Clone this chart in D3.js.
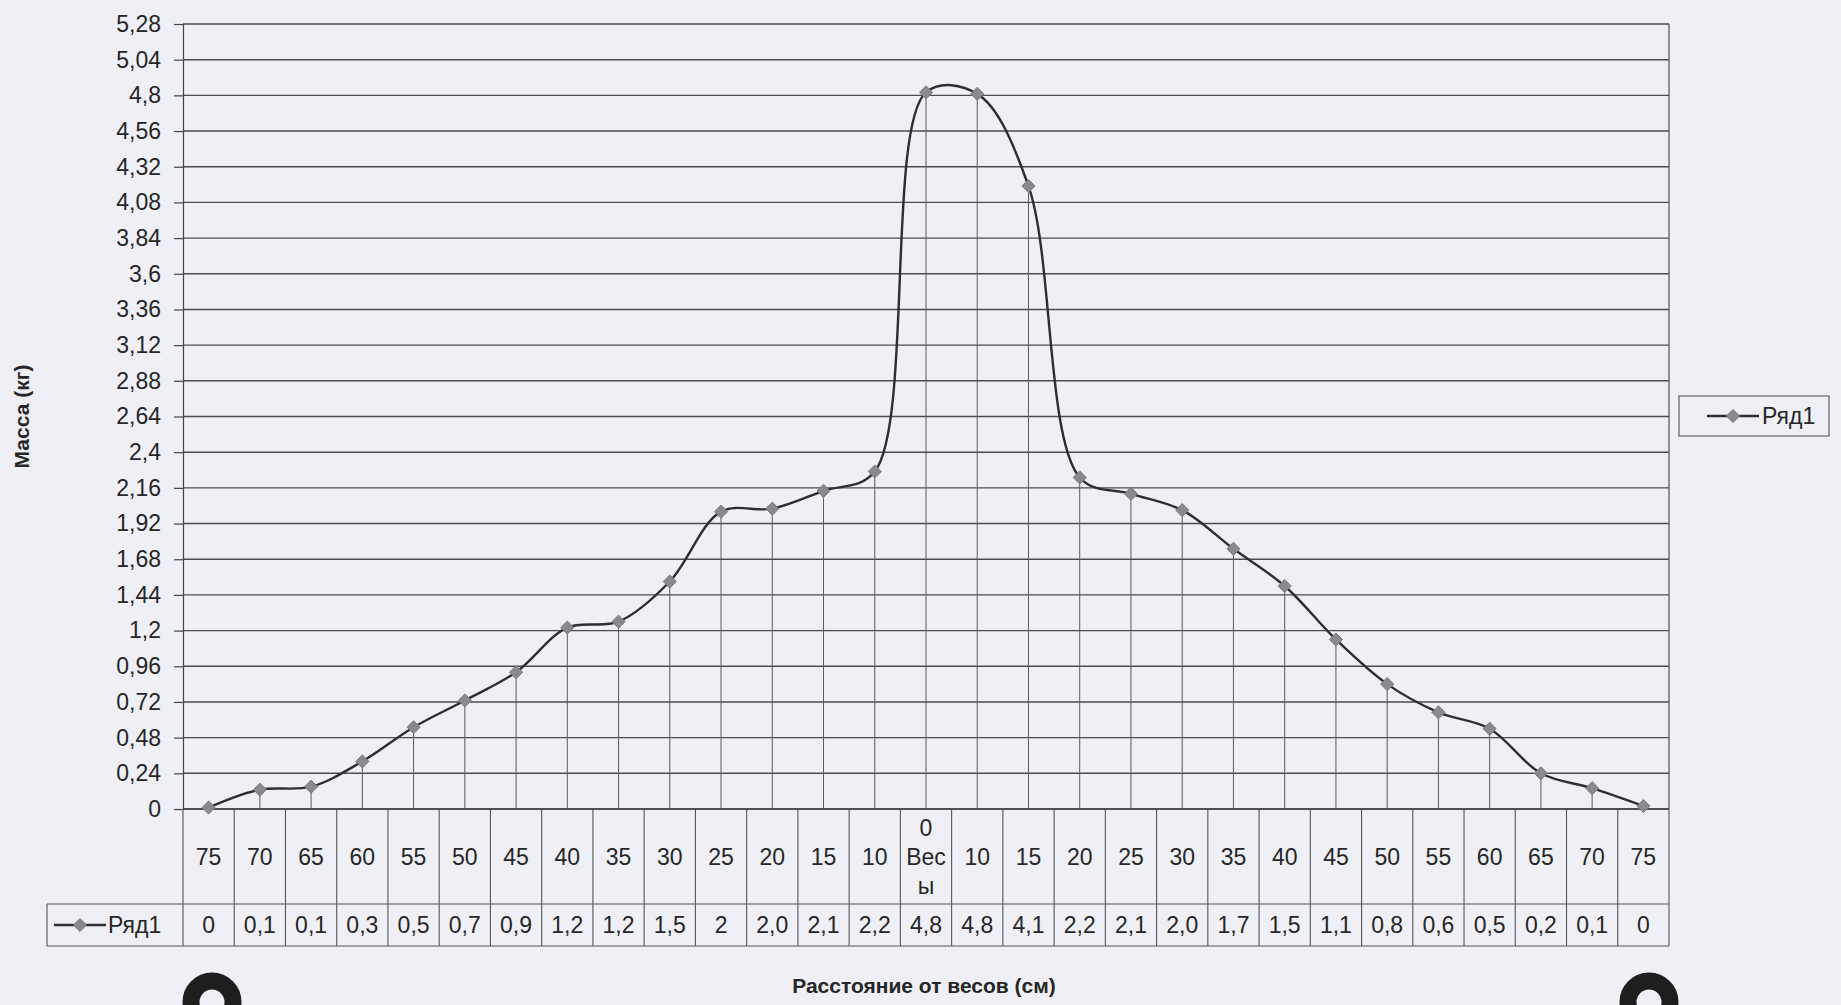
<!DOCTYPE html>
<html>
<head>
<meta charset="utf-8">
<script src="https://cdn.jsdelivr.net/npm/d3@7"></script>
<style>
  html, body { margin: 0; padding: 0; background: #eef0f4; }
  svg { display: block; font-family: "Liberation Sans", Arial, sans-serif; }
</style>
</head>
<body>
<div id="chart"></div>
<script>
// categories (distance from the scales, cm) - left side, scales, right side
var categories = ['75', '70', '65', '60', '55', '50', '45', '40', '35', '30', '25', '20', '15', '10',
    '0\nВес\nы',
    '10', '15', '20', '25', '30', '35', '40', '45', '50', '55', '60', '65', '70', '75'];

// series values (kg)
var values = [0.01, 0.13, 0.15, 0.32, 0.55, 0.73, 0.92, 1.22, 1.26, 1.53, 2.0, 2.02, 2.14, 2.27,
    4.82,
    4.81, 4.19, 2.23, 2.12, 2.01, 1.75, 1.5, 1.14, 0.84, 0.65, 0.54, 0.24, 0.14, 0.02];

// text shown in the data table row
var tableLabels = ['0', '0,1', '0,1', '0,3', '0,5', '0,7', '0,9', '1,2', '1,2', '1,5', '2', '2,0', '2,1', '2,2',
    '4,8',
    '4,8', '4,1', '2,2', '2,1', '2,0', '1,7', '1,5', '1,1', '0,8', '0,6', '0,5', '0,2', '0,1', '0'];

var yMax = 5.28, yStep = 0.24;
var seriesName = 'Ряд1';

var width = 1841, height = 1005;
var plot = { left: 183, right: 1669, top: 24, bottom: 809 };
var table = { keyLeft: 47, rowSplit: 904, bottom: 946 };

var svg = d3.select('#chart').append('svg')
    .attr('width', width)
    .attr('height', height);

svg.append('rect').attr('width', width).attr('height', height).attr('fill', '#eef0f5');

var x = d3.scaleBand()
    .domain(d3.range(categories.length))
    .range([plot.left, plot.right]);

var y = d3.scaleLinear()
    .domain([0, yMax])
    .range([plot.bottom, plot.top]);

var yTicks = d3.range(0, Math.round(yMax / yStep) + 1).map(function(i) { return +(i * yStep).toFixed(2); });
var fmt = function(v) { return String(+v.toFixed(2)).replace('.', ','); };

// horizontal gridlines
svg.append('g').selectAll('line').data(yTicks).join('line')
    .attr('x1', plot.left).attr('x2', plot.right)
    .attr('y1', function(d) { return y(d); }).attr('y2', function(d) { return y(d); })
    .attr('stroke', '#4c4c4c').attr('stroke-width', 1.4);

// y axis
var yAxis = svg.append('g')
    .attr('transform', 'translate(' + plot.left + ',0)')
    .call(d3.axisLeft(y).tickValues(yTicks).tickFormat(fmt).tickSize(9).tickPadding(13));
yAxis.select('.domain').attr('stroke', '#444').attr('stroke-width', 1.2);
yAxis.selectAll('.tick line').attr('stroke', '#444').attr('stroke-width', 1.2);
yAxis.selectAll('.tick text')
    .attr('fill', '#262626')
    .style('font-size', '23px')
    .style('font-family', '"Liberation Sans", Arial, sans-serif');

// right border of the plot
svg.append('line')
    .attr('x1', plot.right).attr('x2', plot.right)
    .attr('y1', plot.top).attr('y2', plot.bottom)
    .attr('stroke', '#505050').attr('stroke-width', 1.2);

// drop lines from every point
svg.append('g').selectAll('line').data(values).join('line')
    .attr('x1', function(d, i) { return x(i) + x.bandwidth() / 2; })
    .attr('x2', function(d, i) { return x(i) + x.bandwidth() / 2; })
    .attr('y1', function(d) { return y(d); })
    .attr('y2', plot.bottom)
    .attr('stroke', '#5a5a5a').attr('stroke-width', 1);

// data table under the axis
var tableG = svg.append('g').attr('stroke', '#555').attr('stroke-width', 1.1);
var borders = d3.range(categories.length + 1).map(function(i) {
    return i < categories.length ? x(i) : plot.right;
});
tableG.selectAll('line.col').data(borders).join('line')
    .attr('class', 'col')
    .attr('x1', function(d) { return d; }).attr('x2', function(d) { return d; })
    .attr('y1', plot.bottom).attr('y2', table.bottom);
tableG.append('line')
    .attr('x1', plot.left).attr('x2', plot.right)
    .attr('y1', plot.bottom).attr('y2', plot.bottom)
    .attr('stroke', '#444').attr('stroke-width', 1.4);
tableG.append('line')
    .attr('x1', table.keyLeft).attr('x2', plot.right)
    .attr('y1', table.rowSplit).attr('y2', table.rowSplit);
tableG.append('line')
    .attr('x1', table.keyLeft).attr('x2', plot.right)
    .attr('y1', table.bottom).attr('y2', table.bottom);
tableG.append('line')
    .attr('x1', table.keyLeft).attr('x2', table.keyLeft)
    .attr('y1', table.rowSplit).attr('y2', table.bottom);

// category labels
var catText = svg.append('g').selectAll('text').data(categories).join('text')
    .attr('x', function(d, i) { return x(i) + x.bandwidth() / 2; })
    .attr('text-anchor', 'middle')
    .attr('fill', '#262626')
    .style('font-size', '23px');
catText.each(function(d) {
    var lines = d.split('\n');
    var mid = (plot.bottom + table.rowSplit) / 2;
    var lh = 29;
    d3.select(this).selectAll('tspan').data(lines).join('tspan')
        .attr('x', d3.select(this).attr('x'))
        .attr('y', function(l, j) { return mid + 8 + (j - (lines.length - 1) / 2) * lh; })
        .text(function(l) { return l; });
});

// data row labels
svg.append('g').selectAll('text').data(tableLabels).join('text')
    .attr('x', function(d, i) { return x(i) + x.bandwidth() / 2; })
    .attr('y', (table.rowSplit + table.bottom) / 2 + 8)
    .attr('text-anchor', 'middle')
    .attr('fill', '#262626')
    .style('font-size', '23px')
    .text(function(d) { return d; });

var diamond = d3.symbol().type(d3.symbolDiamond2 || d3.symbolDiamond).size(110);

function drawKey(g, cx, cy) {
    g.append('line')
        .attr('x1', cx - 26).attr('x2', cx + 26)
        .attr('y1', cy).attr('y2', cy)
        .attr('stroke', '#2e2e2e').attr('stroke-width', 2.6);
    g.append('path')
        .attr('d', diamond)
        .attr('transform', 'translate(' + cx + ',' + cy + ')')
        .attr('fill', '#8a8a8e').attr('stroke', '#7a7a7e');
}

// key in the table row
var rowY = (table.rowSplit + table.bottom) / 2;
drawKey(svg.append('g'), 80, rowY);
svg.append('text')
    .attr('x', 108).attr('y', rowY + 8)
    .attr('fill', '#262626')
    .style('font-size', '23px')
    .text(seriesName);

// smoothed series line
var line = d3.line()
    .x(function(d, i) { return x(i) + x.bandwidth() / 2; })
    .y(function(d) { return y(d); })
    .curve(d3.curveCatmullRom.alpha(0.5));

svg.append('path')
    .datum(values)
    .attr('fill', 'none')
    .attr('stroke', '#2e2e2e')
    .attr('stroke-width', 2.4)
    .attr('d', line);

svg.append('g').selectAll('path').data(values).join('path')
    .attr('d', diamond)
    .attr('transform', function(d, i) { return 'translate(' + (x(i) + x.bandwidth() / 2) + ',' + y(d) + ')'; })
    .attr('fill', '#8a8a8e')
    .attr('stroke', '#7a7a7e');

// legend on the right
var legend = svg.append('g');
legend.append('rect')
    .attr('x', 1679).attr('y', 396).attr('width', 150).attr('height', 40)
    .attr('fill', 'none').attr('stroke', '#555').attr('stroke-width', 1.1);
drawKey(legend, 1733, 416);
legend.append('text')
    .attr('x', 1762).attr('y', 424)
    .attr('fill', '#262626')
    .style('font-size', '23px')
    .text(seriesName);

// axis titles
svg.append('text')
    .attr('x', (plot.left + plot.right) / 2 - 2).attr('y', 993)
    .attr('text-anchor', 'middle')
    .attr('fill', '#262626')
    .style('font-size', '21px').style('font-weight', 'bold')
    .text('Расстояние от весов (см)');

svg.append('text')
    .attr('transform', 'translate(29,' + ((plot.top + plot.bottom) / 2) + ') rotate(-90)')
    .attr('text-anchor', 'middle')
    .attr('fill', '#262626')
    .style('font-size', '21px').style('font-weight', 'bold')
    .text('Масса (кг)');

// binder rings from the scanned sheet
svg.append('g').selectAll('circle').data([212, 1649]).join('circle')
    .attr('cx', function(d) { return d; })
    .attr('cy', 1002)
    .attr('r', 21)
    .attr('fill', 'none')
    .attr('stroke', '#1e1e1e')
    .attr('stroke-width', 17);
</script>
</body>
</html>
